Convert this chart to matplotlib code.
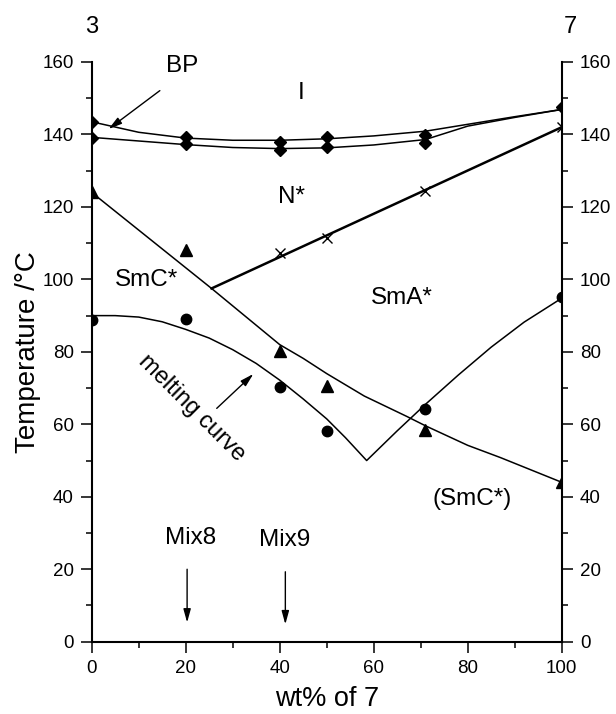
import matplotlib
matplotlib.use("Agg")
import matplotlib.pyplot as plt

plt.rcParams['font.family'] = ['Liberation Sans', 'DejaVu Sans']

# ---- data ----
# top transition curves (I -> BP upper line, BP -> N* lower line)
iso_x = [0, 10, 20, 30, 40, 50, 60, 71, 80, 90, 100]
iso_y = [143.5, 140.6, 139.0, 138.4, 138.4, 138.8, 139.6, 140.9, 142.8, 144.9, 146.9]
bp_x = [0, 10, 20, 30, 40, 50, 60, 71, 80, 90, 100]
bp_y = [139.2, 138.2, 137.2, 136.4, 136.1, 136.3, 137.1, 138.6, 142.3, 144.7, 146.9]

# diamond markers
dia_up_x = [0, 20, 40, 50, 71, 100]
dia_up_y = [143.5, 139.2, 137.8, 139.2, 139.8, 147.5]
dia_lo_x = [0, 20, 40, 50, 71]
dia_lo_y = [139.0, 137.4, 135.8, 136.5, 137.6]

# N* -> SmA* line and cross markers
nsa_x = [25.5, 100]
nsa_y = [97.5, 142.0]
cross_x = [40, 50, 71, 100]
cross_y = [107.3, 111.3, 124.5, 142.0]

# SmC* boundary curve and triangle markers
smc_x = [0, 25.5, 40, 45, 50, 58, 67, 71, 80, 87, 100]
smc_y = [124.0, 97.5, 82.0, 78.2, 74.0, 67.8, 62.2, 59.6, 54.2, 50.8, 44.0]
tri_x = [0, 20, 40, 50, 71, 100]
tri_y = [124.0, 108.2, 80.2, 70.5, 58.3, 44.0]

# melting curve (with eutectic) and circle markers
melt_x = [0, 5, 10, 15, 20, 25, 30, 35, 40, 45, 50, 54, 58.5, 65, 71, 78, 85, 92, 100]
melt_y = [90.0, 90.0, 89.6, 88.3, 86.2, 83.8, 80.6, 76.8, 72.2, 67.0, 61.5, 56.3, 50.0,
          58.2, 65.5, 73.6, 81.3, 88.2, 94.8]
circ_x = [0, 20, 40, 50, 71, 100]
circ_y = [88.8, 89.1, 70.2, 58.2, 64.3, 95.1]

xticks = [0, 20, 40, 60, 80, 100]
yticks = [0, 20, 40, 60, 80, 100, 120, 140, 160]

fig = plt.figure(figsize=(6.16, 7.14), dpi=100)
ax = fig.add_axes([91.7 / 616, 1 - 641.7 / 714, 470 / 616, 579.7 / 714])

lw = 1.1
ax.plot(iso_x, iso_y, color='black', lw=lw)
ax.plot(bp_x, bp_y, color='black', lw=lw)
ax.plot(dia_up_x, dia_up_y, 'D', color='black', ms=6.5, ls='none')
ax.plot(dia_lo_x, dia_lo_y, 'D', color='black', ms=6.5, ls='none')

ax.plot(nsa_x, nsa_y, color='black', lw=1.8)
ax.plot(cross_x, cross_y, 'x', color='black', ms=7, mew=1.0, ls='none')

ax.plot(smc_x, smc_y, color='black', lw=lw)
ax.plot(tri_x, tri_y, '^', color='black', ms=8, ls='none')

ax.plot(melt_x, melt_y, color='black', lw=lw)
ax.plot(circ_x, circ_y, 'o', color='black', ms=7.5, ls='none')

ax.set_xlim(0, 100)
ax.set_ylim(0, 160)
ax.set_xticks(xticks)
ax.set_yticks(yticks)
ax.set_xticks(range(0, 101, 10), minor=True)
ax.set_yticks(range(0, 161, 10), minor=True)

ax.spines['top'].set_visible(False)
for s in ['left', 'right', 'bottom']:
    ax.spines[s].set_linewidth(1.5)

ax.tick_params(which='both', direction='out', right=True, labelright=True,
               top=False, width=1.1, labelsize=13.5, pad=5)
ax.tick_params(which='major', length=8)
ax.tick_params(which='minor', length=4)

ax.set_xlabel('wt% of 7', fontsize=19.5)
ax.xaxis.set_label_coords(0.5, -0.077)
ax.set_ylabel('Temperature /°C', fontsize=20, labelpad=1)

# region labels
fs = 17.5
ax.text(19.3, 158.9, 'BP', fontsize=fs, ha='center', va='center')
ax.text(44.6, 151.5, 'I', fontsize=fs, ha='center', va='center')
ax.text(42.5, 122.8, 'N*', fontsize=fs, ha='center', va='center')
ax.text(11.7, 99.8, 'SmC*', fontsize=fs, ha='center', va='center')
ax.text(66, 95, 'SmA*', fontsize=fs, ha='center', va='center')
ax.text(81.0, 39.3, '(SmC*)', fontsize=fs, ha='center', va='center')
ax.text(21.3, 64.5, 'melting curve', fontsize=17, ha='center', va='center',
        rotation=-45)
ax.text(21.0, 28.5, 'Mix8', fontsize=fs, ha='center', va='center')
ax.text(41.0, 28.0, 'Mix9', fontsize=fs, ha='center', va='center')
ax.text(0, 169.7, '3', fontsize=17, ha='center', va='center', clip_on=False)
ax.text(101.8, 169.7, '7', fontsize=17, ha='center', va='center', clip_on=False)

arr = dict(arrowstyle='-|>,head_length=0.8,head_width=0.22', color='black',
           lw=1.0, shrinkA=0, shrinkB=0)
ax.annotate('', xy=(3.6, 141.5), xytext=(14.5, 152.1), arrowprops=arr)
ax.annotate('', xy=(34.4, 73.9), xytext=(26.6, 64.4), arrowprops=arr)
ax.annotate('', xy=(20.3, 5.3), xytext=(20.3, 20.0), arrowprops=arr)
ax.annotate('', xy=(41.2, 4.8), xytext=(41.2, 19.3), arrowprops=arr)

fig.savefig('out.png', dpi=100)
